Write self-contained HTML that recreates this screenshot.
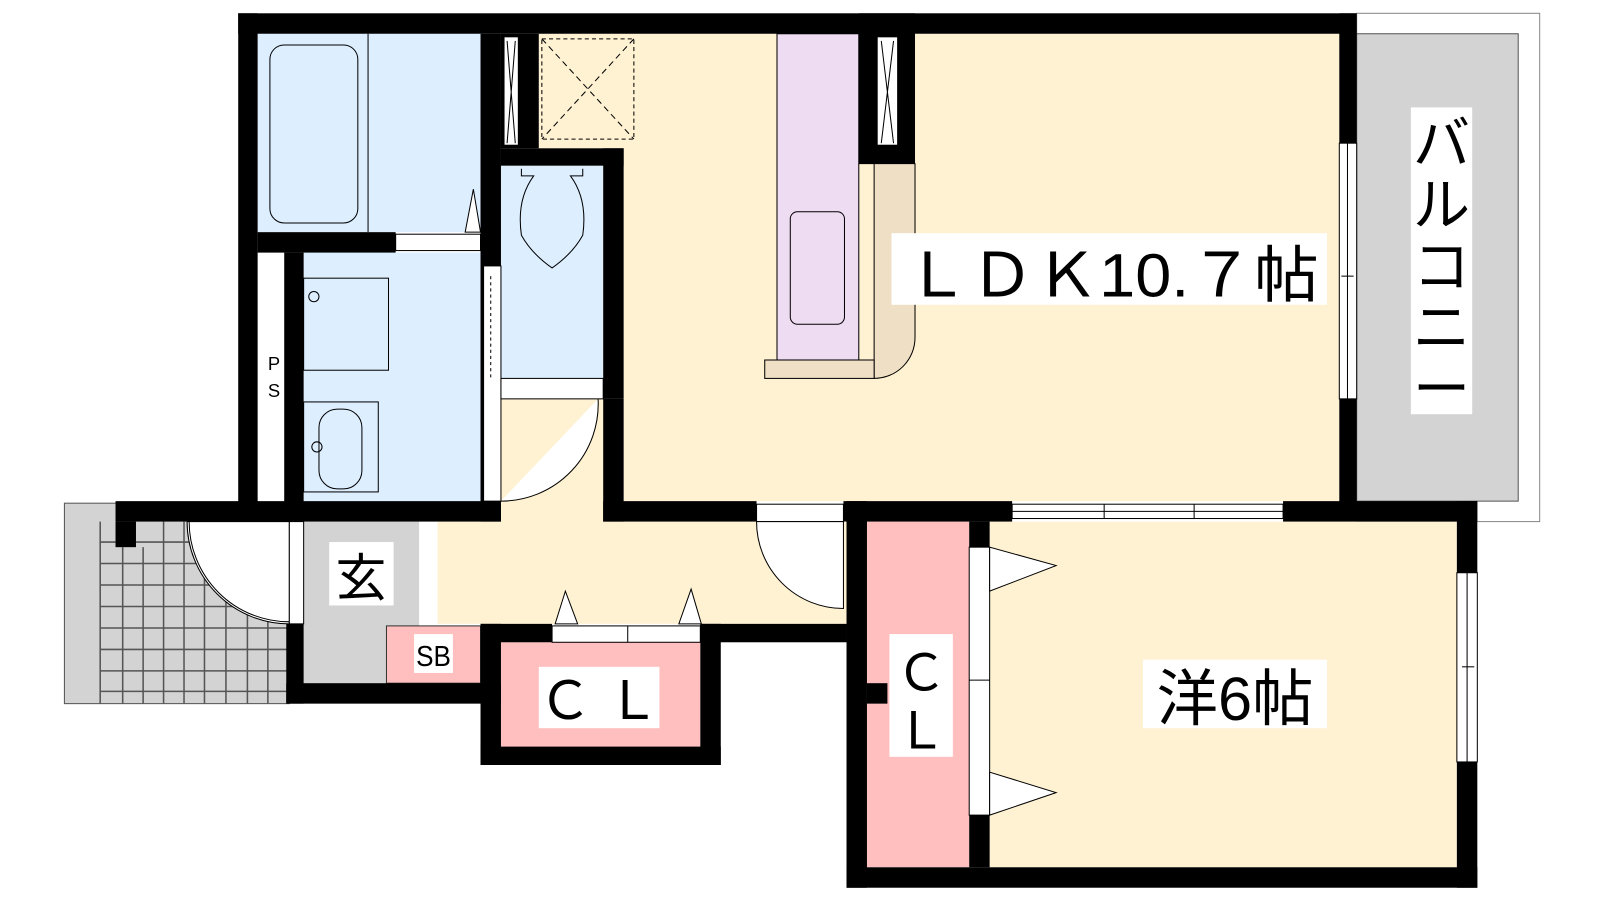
<!DOCTYPE html>
<html><head><meta charset="utf-8"><style>
html,body{margin:0;padding:0;background:#fff;width:1600px;height:900px;overflow:hidden}
svg{display:block}
text{font-family:"Liberation Sans","Noto Sans CJK JP",sans-serif;fill:#000}
</style></head><body>
<svg width="1600" height="900" viewBox="0 0 1565 880" preserveAspectRatio="none" xmlns="http://www.w3.org/2000/svg">
<!-- balcony -->
<rect x="1327" y="13" width="179" height="497" fill="#fff" stroke="#888" stroke-width="1"/>
<rect x="1327" y="33" width="158" height="457" fill="#d3d3d3" stroke="#555" stroke-width="1"/>
<!-- outdoor tile area -->
<rect x="63" y="492" width="220" height="196" fill="#d3d3d3" stroke="#555"/>
<g stroke="#555" stroke-width="1.5">
<line x1="98" y1="510" x2="98" y2="688"/><line x1="120" y1="510" x2="120" y2="688"/><line x1="140" y1="535" x2="140" y2="688"/><line x1="160" y1="510" x2="160" y2="688"/><line x1="180" y1="510" x2="180" y2="688"/><line x1="200" y1="510" x2="200" y2="688"/><line x1="221" y1="510" x2="221" y2="688"/><line x1="242" y1="510" x2="242" y2="688"/><line x1="262" y1="510" x2="262" y2="688"/>
<line x1="98" y1="530" x2="283" y2="530"/><line x1="98" y1="551" x2="283" y2="551"/><line x1="98" y1="572" x2="283" y2="572"/><line x1="98" y1="593" x2="283" y2="593"/><line x1="98" y1="614" x2="283" y2="614"/><line x1="98" y1="635" x2="283" y2="635"/><line x1="98" y1="656" x2="283" y2="656"/><line x1="98" y1="676" x2="283" y2="676"/>
</g>
<path d="M183 510 L283 510 L283 610 A100 100 0 0 1 183 510 Z" fill="#fff" stroke="#000" stroke-width="1"/>
<!-- cream floors -->
<rect x="610" y="33" width="700" height="457" fill="#fff2d3"/>
<rect x="527" y="33" width="95" height="112" fill="#fff2d3"/>
<rect x="428" y="510" width="400" height="100" fill="#fff2d3"/>
<rect x="490" y="390" width="120" height="130" fill="#fff2d3"/>
<rect x="968" y="510" width="457" height="338" fill="#fff2d3"/>
<!-- blue rooms -->
<rect x="252" y="33" width="218" height="194" fill="#ddeeff"/>
<rect x="297" y="247" width="176" height="243" fill="#ddeeff"/>
<rect x="490" y="162" width="100" height="208" fill="#ddeeff"/>
<!-- entry gray -->
<rect x="297" y="510" width="113" height="158" fill="#d3d3d3"/>
<rect x="410" y="510" width="18" height="100" fill="#fff"/>
<!-- pink -->
<rect x="378" y="612" width="92" height="56" fill="#ffbfbf" stroke="#333" stroke-width="1"/>
<rect x="490" y="628" width="195" height="102" fill="#ffbfbf"/>
<rect x="848" y="510" width="100" height="338" fill="#ffbfbf"/>
<!-- walls -->
<g fill="#000">
<rect x="233" y="13" width="1094" height="20"/>
<rect x="233" y="13" width="19" height="497"/>
<rect x="252" y="227" width="135" height="20"/>
<rect x="470" y="33" width="20" height="477"/>
<rect x="278" y="247" width="19" height="263"/>
<rect x="490" y="33" width="37" height="112"/>
<rect x="490" y="145" width="120" height="17"/>
<rect x="590" y="145" width="20" height="245"/>
<rect x="590" y="390" width="20" height="120"/>
<rect x="590" y="490" width="150" height="20"/>
<rect x="825" y="490" width="165" height="20"/>
<rect x="1255" y="490" width="190" height="20"/>
<rect x="1310" y="13" width="17" height="490"/>
<rect x="840" y="13" width="55" height="147"/>
<rect x="113" y="490" width="377" height="20"/>
<rect x="113" y="510" width="20" height="25"/>
<rect x="280" y="610" width="17" height="78"/>
<rect x="280" y="668" width="210" height="20"/>
<rect x="470" y="610" width="70" height="18"/>
<rect x="685" y="610" width="143" height="18"/>
<rect x="470" y="610" width="20" height="138"/>
<rect x="685" y="610" width="20" height="138"/>
<rect x="470" y="730" width="235" height="18"/>
<rect x="828" y="490" width="20" height="378"/>
<rect x="828" y="848" width="617" height="20"/>
<rect x="1425" y="490" width="20" height="378"/>
<rect x="948" y="510" width="20" height="338"/>
<rect x="848" y="668" width="20" height="20"/>
</g>
<!-- windows -->
<g fill="#fff" stroke="#000" stroke-width="1">
<rect x="493" y="36" width="14" height="106"/>
<rect x="858" y="36" width="20" height="106"/>
<rect x="1310" y="140" width="17" height="250"/>
<rect x="1425" y="560" width="20" height="185"/>
<rect x="990" y="493" width="265" height="14"/>
<rect x="540" y="612" width="145" height="16"/>
<rect x="387" y="229" width="83" height="16"/>
<rect x="473" y="260" width="17" height="230"/>
<rect x="948" y="535" width="20" height="262"/>
<rect x="490" y="370" width="100" height="20"/>
<rect x="740" y="493" width="85" height="17"/>
<rect x="283" y="510" width="14" height="100"/>
</g>
<g stroke="#000" stroke-width="1" fill="none">
<path d="M496 40 L504 140 M504 40 L496 140"/>
<path d="M862 40 L874 140 M874 40 L862 140"/>
<line x1="1318" y1="140" x2="1318" y2="390"/><line x1="1312" y1="270" x2="1324" y2="270"/>
<line x1="1435" y1="560" x2="1435" y2="745"/><line x1="1430" y1="652" x2="1442" y2="652"/>
<line x1="990" y1="500" x2="1255" y2="500"/><line x1="1080" y1="493" x2="1080" y2="507"/><line x1="1168" y1="493" x2="1168" y2="507"/>
<line x1="614" y1="612" x2="614" y2="628"/>
<line x1="948" y1="665" x2="968" y2="665"/>
<line x1="480" y1="270" x2="480" y2="370" stroke-dasharray="3,3"/>
<rect x="530" y="38" width="90" height="98" stroke-dasharray="4,3"/>
<path d="M530 38 L620 136 M620 38 L530 136" stroke-dasharray="6,4"/>
<path d="M490 490 A95 95 0 0 0 585 390" fill="#fff"/>
<path d="M740 510 A85 85 0 0 0 825 595 L825 510 Z" fill="#fff"/>
<path d="M185 510 A98 98 0 0 0 283 608"/>
<path d="M510 165 L510 172 L522 172 Q505 195 510 230 Q520 248 540 262 Q560 248 570 230 Q575 195 558 172 L570 172 L570 165"/>
<rect x="264" y="44" width="86" height="174" rx="14"/>
<line x1="360" y1="33" x2="360" y2="227"/>
<rect x="297" y="272" width="83" height="90"/>
<circle cx="307" cy="290" r="5"/>
<rect x="297" y="393" width="73" height="88"/>
<rect x="312" y="400" width="42" height="78" rx="18"/>
<circle cx="310" cy="437" r="5"/>
</g>
<g fill="#fff" stroke="#000" stroke-width="1">
<polygon points="455,227 470,227 463,185"/>
<polygon points="543,610 565,610 553,578"/>
<polygon points="664,610 686,610 676,576"/>
<polygon points="968,535 968,578 1033,553"/>
<polygon points="968,755 968,797 1033,775"/>
</g>
<rect x="760" y="33" width="80" height="319" fill="#eedcf3" stroke="#000" stroke-width="1"/>
<rect x="773" y="207" width="53" height="110" rx="7" fill="none" stroke="#000"/>
<path d="M840 160 L895 160 L895 330 A40 40 0 0 1 855 370 L855 160 Z" fill="#efdfc4" stroke="#000" stroke-width="1"/>
<rect x="748" y="352" width="107" height="18" fill="#efdfc4" stroke="#000" stroke-width="1"/>
<rect x="872" y="228" width="426" height="70" fill="#fff"/>
<text x="885" y="290" font-size="60" textLength="405" lengthAdjust="spacingAndGlyphs">ＬＤＫ10.７帖</text>
<rect x="1380" y="105" width="60" height="300" fill="#fff"/>
<text x="1410" y="160" font-size="56" text-anchor="middle">バ</text>
<text x="1410" y="220" font-size="56" text-anchor="middle">ル</text>
<text x="1410" y="280" font-size="56" text-anchor="middle">コ</text>
<text x="1410" y="340" font-size="56" text-anchor="middle">ニ</text>
<text x="1410" y="400" font-size="56" text-anchor="middle">ー</text>
<rect x="322" y="530" width="63" height="62" fill="#fff"/>
<text x="353" y="583" font-size="50" text-anchor="middle">玄</text>
<rect x="405" y="620" width="38" height="38" fill="#fff"/>
<text x="424" y="651" font-size="28" text-anchor="middle" textLength="34" lengthAdjust="spacingAndGlyphs">SB</text>
<rect x="527" y="652" width="118" height="60" fill="#fff"/>
<text x="586" y="703" font-size="52" text-anchor="middle">Ｃ Ｌ</text>
<rect x="870" y="620" width="62" height="120" fill="#fff"/>
<text x="901" y="675" font-size="50" text-anchor="middle">Ｃ</text>
<text x="901" y="732" font-size="50" text-anchor="middle">Ｌ</text>
<rect x="1118" y="645" width="180" height="67" fill="#fff"/>
<text x="1208" y="704" font-size="60" text-anchor="middle">洋6帖</text>
<text x="268" y="362" font-size="18" text-anchor="middle">P</text>
<text x="268" y="388" font-size="18" text-anchor="middle">S</text>
</svg>
</body></html>
